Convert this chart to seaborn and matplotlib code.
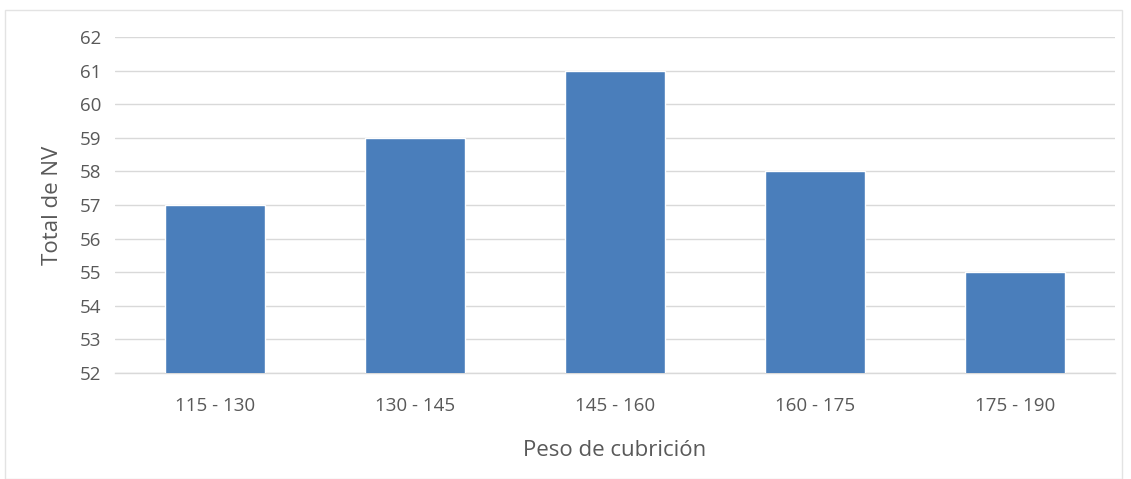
import matplotlib
matplotlib.use("Agg")
import matplotlib.pyplot as plt
from matplotlib.patches import Rectangle
import seaborn as sns
import pandas as pd

categorias = ["115 - 130", "130 - 145", "145 - 160", "160 - 175", "175 - 190"]
total_nv = [57, 59, 61, 58, 55]
y_ticks = list(range(52, 63))

df = pd.DataFrame({"Peso de cubrición": categorias, "Total de NV": total_nv})

sns.set_theme(style="white")
plt.rcParams["font.family"] = ["Open Sans", "DejaVu Sans"]

fig = plt.figure(figsize=(11.31, 4.79), dpi=100)
ax = fig.add_axes([0.1017, 0.2213, 0.8843, 0.7015])

sns.barplot(data=df, x="Peso de cubrición", y="Total de NV", color="#4A7EBB",
            saturation=1, width=0.5, ax=ax, zorder=3)

ax.set_ylim(52, 62)
ax.set_yticks(y_ticks)
ax.set_xlim(-0.5, len(categorias) - 0.5)
ax.grid(axis="y", color="#D9D9D9", linewidth=1, zorder=0)
for side in ["top", "right", "left"]:
    ax.spines[side].set_visible(False)
ax.spines["bottom"].set_color("#D9D9D9")
ax.spines["bottom"].set_linewidth(1)
ax.tick_params(axis="both", length=0, labelsize=13.5, colors="#595959")
ax.tick_params(axis="x", pad=17.5)
ax.tick_params(axis="y", pad=10)
ax.set_xlabel("Peso de cubrición", fontsize=16, color="#595959", labelpad=18)
ax.set_ylabel("Total de NV", fontsize=16, color="#595959", labelpad=12)

fig.add_artist(Rectangle((5 / 1131, 0), 1117 / 1131, 1 - 10 / 479,
                         transform=fig.transFigure, fill=False,
                         edgecolor="#E3E3E3", linewidth=1))

fig.savefig("out.png", dpi=100)
